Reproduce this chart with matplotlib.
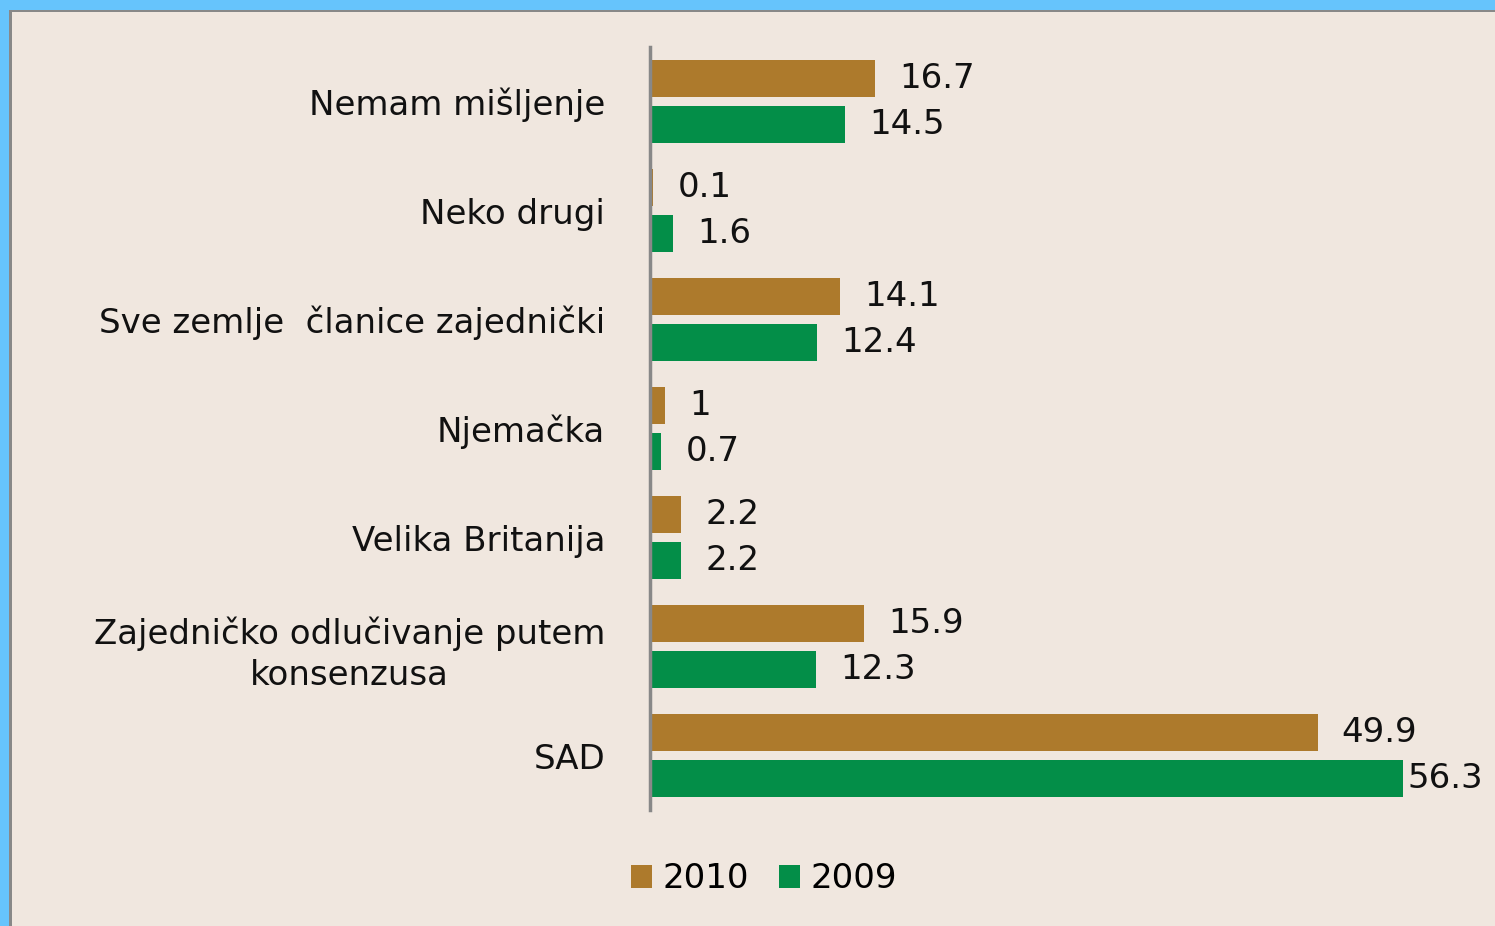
import matplotlib
matplotlib.use("Agg")
import matplotlib.pyplot as plt
from matplotlib.patches import Rectangle
import numpy as np

categories = ["Nemam mišljenje", "Neko drugi", "Sve zemlje  članice zajednički",
              "Njemačka", "Velika Britanija", "Zajedničko odlučivanje putem\nkonsenzusa", "SAD"]
values_2010 = [16.7, 0.1, 14.1, 1, 2.2, 15.9, 49.9]
values_2009 = [14.5, 1.6, 12.4, 0.7, 2.2, 12.3, 56.3]
labels_2010 = ["16.7", "0.1", "14.1", "1", "2.2", "15.9", "49.9"]
labels_2009 = ["14.5", "1.6", "12.4", "0.7", "2.2", "12.3", "56.3"]
series_names = ["2010", "2009"]

c2010 = "#AD7A2C"
c2009 = "#038E48"
bg = "#F0E7DF"

W, H = 1495, 926
fig = plt.figure(figsize=(W/100, H/100), dpi=100)
fig.patch.set_facecolor("#66C4FC")
# inner panel
fig.add_artist(Rectangle((9/W, 0), 1, 1 - 10/H, transform=fig.transFigure,
                         facecolor="#888888", edgecolor="none", zorder=0))
fig.add_artist(Rectangle((12/W, 0), 1, 1 - 12/H, transform=fig.transFigure,
                         facecolor=bg, edgecolor="none", zorder=0))

x0, x1 = 652, 1495
ytop, ybot = 47, 810
ax = fig.add_axes([x0/W, (H-ybot)/H, (x1-x0)/W, (ybot-ytop)/H])
ax.set_facecolor("none")
px_per_unit = 13.34
ax.set_xlim(0, (x1-x0)/px_per_unit)
n = len(categories)
ax.set_ylim(n-0.5, -0.5)

y = np.arange(n)
off = 0.212
h = 0.34
ax.barh(y-off, values_2010, height=h, color=c2010, label=series_names[0])
ax.barh(y+off, values_2009, height=h, color=c2009, label=series_names[1])

for s in ["top", "right", "bottom"]:
    ax.spines[s].set_visible(False)
ax.spines["left"].set_color("#888888")
ax.spines["left"].set_linewidth(2.5)
ax.spines["left"].set_position(("outward", 1.6))
ax.set_xticks([])
ax.set_yticks(y)
ax.set_yticklabels(categories, fontsize=24.5, multialignment="center", color="#111111",
                   linespacing=1.3)
ax.tick_params(axis="y", length=0, pad=32)

fs_val = 24.5
for vals, labs, sign in [(values_2010, labels_2010, -1), (values_2009, labels_2009, 1)]:
    for i, (v, t) in enumerate(zip(vals, labs)):
        pad = 24 if v * px_per_unit + 24 + 85 < (x1 - x0) else 4
        ax.annotate(t, (v, i + sign*off), xytext=(pad*0.72, 0), textcoords="offset points",
                    ha="left", va="center", fontsize=fs_val, color="#111111")

leg = fig.legend(loc="center", bbox_to_anchor=(764/W, (H-879)/H), ncol=2, frameon=False,
                 fontsize=24.5, handlelength=0.62, handleheight=0.62, handletextpad=0.32,
                 columnspacing=0.86)

fig.savefig("out.png", dpi=100, facecolor=fig.get_facecolor())
